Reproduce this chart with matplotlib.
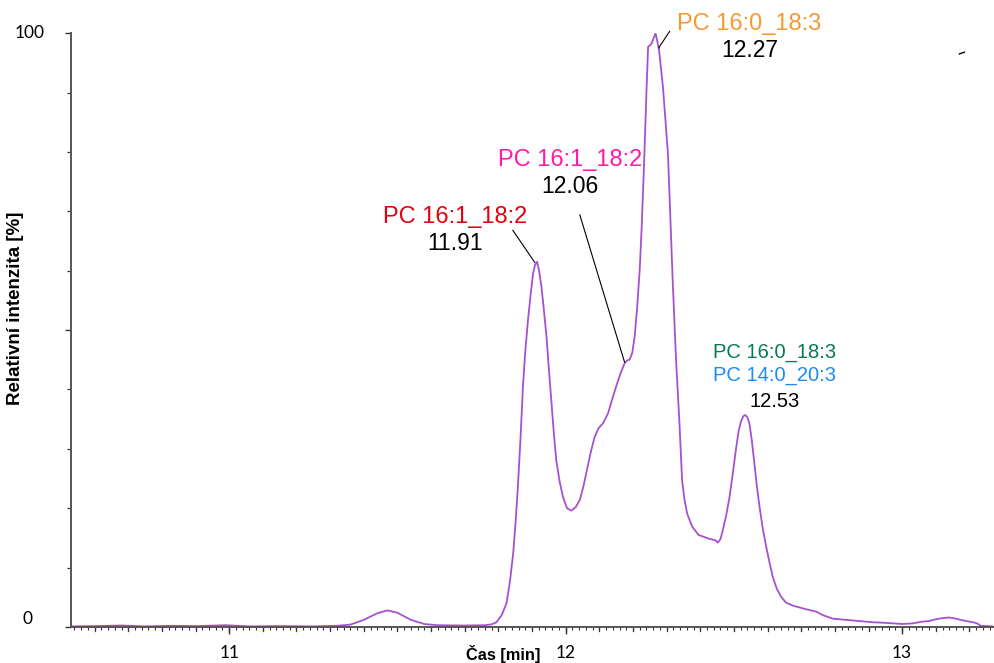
import numpy as np
import matplotlib
matplotlib.use("Agg")
import matplotlib.pyplot as plt
from matplotlib.ticker import MultipleLocator, FixedLocator
import matplotlib.transforms as mtransforms

# chromatogram trace (time in min, relative intensity in %)
time_min = [
    10.53, 10.60, 10.68, 10.75, 10.83, 10.90, 10.99, 11.06, 11.15, 11.25,
    11.32, 11.36, 11.40, 11.44, 11.47, 11.50, 11.54, 11.58, 11.62, 11.70,
    11.76, 11.78, 11.794, 11.81, 11.824, 11.834, 11.844, 11.851, 11.858, 11.866,
    11.873, 11.880, 11.888, 11.896, 11.903, 11.909, 11.915, 11.921, 11.928, 11.935,
    11.943, 11.950, 11.958, 11.965, 11.972, 11.982, 11.992, 12.004, 12.017, 12.030,
    12.042, 12.052, 12.061, 12.074, 12.086, 12.098, 12.111, 12.126, 12.138, 12.150,
    12.163, 12.175, 12.183, 12.190, 12.198, 12.205, 12.212, 12.220, 12.226, 12.233,
    12.240, 12.245, 12.255, 12.267, 12.277, 12.289, 12.304, 12.318, 12.328, 12.338,
    12.346, 12.353, 12.361, 12.376, 12.395, 12.424, 12.445, 12.452, 12.460, 12.467,
    12.477, 12.487, 12.497, 12.507, 12.514, 12.521, 12.528, 12.534, 12.540, 12.546,
    12.553, 12.561, 12.568, 12.576, 12.586, 12.596, 12.606, 12.615, 12.627, 12.640,
    12.655, 12.675, 12.694, 12.714, 12.744, 12.764, 12.794, 12.853, 12.912, 12.951,
    13.00, 13.03, 13.06, 13.08, 13.10, 13.12, 13.14, 13.16, 13.174, 13.20,
    13.218, 13.226, 13.233, 13.27,
]
intensity = [
    0.1, 0.15, 0.25, 0.1, 0.2, 0.15, 0.3, 0.1, 0.15, 0.1,
    0.2, 0.4, 1.2, 2.3, 2.8, 2.4, 1.2, 0.5, 0.3, 0.25,
    0.3, 0.45, 0.8, 2.0, 4.0, 7.5, 12.4, 17.5, 23.6, 32.0,
    40.5, 46.5, 51.7, 56.0, 59.5, 61.0, 61.5, 60.0, 57.3, 53.5,
    48.9, 43.5, 37.7, 32.5, 28.1, 24.5, 21.9, 20.0, 19.6, 20.2,
    21.4, 23.5, 25.9, 29.3, 32.0, 33.5, 34.3, 36.0, 38.3, 40.5,
    42.7, 44.4, 44.9, 45.0, 46.2, 48.9, 53.5, 60.1, 67.5, 78.0,
    90.0, 97.7, 98.2, 100.0, 97.4, 91.0, 79.7, 58.4, 45.0, 34.5,
    24.7, 21.5, 19.1, 16.9, 15.5, 14.9, 14.6, 14.2, 14.8, 16.3,
    18.8, 21.9, 26.0, 30.3, 33.0, 34.6, 35.5, 35.7, 35.3, 34.3,
    31.5, 27.5, 23.8, 20.3, 16.5, 13.5, 10.8, 8.5, 6.5, 5.1,
    4.1, 3.6, 3.3, 3.0, 2.6, 2.0, 1.4, 1.1, 0.8, 0.7,
    0.5, 0.6, 0.9, 1.0, 1.3, 1.5, 1.6, 1.4, 1.2, 0.9,
    0.7, 0.5, 0.2, 0.1,
]

# labelled peaks
peak_rt = [11.91, 12.06, 12.27, 12.53]
peak_labels = [
    ["PC 16:1_18:2"],
    ["PC 16:1_18:2"],
    ["PC 16:0_18:3"],
    ["PC 16:0_18:3", "PC 14:0_20:3"],
]
label_colors = [
    ["#e3000f"],
    ["#ff1aa8"],
    ["#f59a2f"],
    ["#077a55", "#1d8bf5"],
]

x_ticks = [11, 12, 13]
y_ticks = [0, 100]

t = np.array(time_min)
y = np.array(intensity)

fig = plt.figure(figsize=(9.95, 6.63), dpi=100)
ax = fig.add_axes([0.0714, 0.0543, 0.9266, 0.8957])

ax.plot(t, y, color="#a452cf", lw=1.3)

ax.set_xlim(10.53, 13.27)
ax.set_ylim(0, 100)

for side in ["top", "right"]:
    ax.spines[side].set_visible(False)
for side in ["left", "bottom"]:
    ax.spines[side].set_color("#555555")
    ax.spines[side].set_linewidth(1.4)

tick_font = dict(family="Lato", size=12.5)
ax.xaxis.set_major_locator(FixedLocator(x_ticks))
ax.xaxis.set_minor_locator(MultipleLocator(0.02))
ax.set_xticklabels([str(v) for v in x_ticks], **tick_font)
ax.tick_params(axis="x", which="major", length=5, width=1.0, color="#333333", pad=8)
ax.tick_params(axis="x", which="minor", length=2, width=0.8, color="#333333")
# medium ticks every 0.1 min
for v in np.arange(10.6, 13.27, 0.1):
    ax.plot([v, v], [0, -0.7], color="#333333", lw=0.9, clip_on=False)

# y ticks: only 0 and 100 are labelled, placed like the original
ax.yaxis.set_major_locator(FixedLocator([0, 50, 100]))
ax.yaxis.set_minor_locator(MultipleLocator(10))
ax.set_yticklabels([])
ax.tick_params(axis="y", which="major", length=4, width=1.0, color="#333333")
ax.tick_params(axis="y", which="minor", length=3, width=0.9, color="#333333")
ytrans = mtransforms.blended_transform_factory(ax.transAxes, ax.transData)
ax.text(-0.0445, y_ticks[1], str(y_ticks[1]), transform=ytrans, ha="center",
        va="center", **tick_font)
ax.text(-0.047, y_ticks[0] + 1.4, str(y_ticks[0]), transform=ytrans, ha="center",
        va="center", **tick_font)

ax.set_xlabel("Čas [min]", family="Liberation Sans", weight="bold", fontsize=11.8)
ax.xaxis.set_label_coords(0.4685, -0.030)
ax.set_ylabel("Relativní intenzita [%]", family="Liberation Sans", weight="bold",
              fontsize=13.5)
ax.yaxis.set_label_coords(-0.051, 0.537)

# annotation layout in data coordinates
ann_font = "Liberation Sans"
layout = [
    dict(tx=11.671, ty=69.0, ny=64.6, fs=17, nfs=16.5, line=(11.843, 66.8, 11.908, 61.4)),
    dict(tx=12.012, ty=78.6, ny=74.2, fs=17, nfs=16.5, line=(12.042, 69.4, 12.175, 44.6)),
    dict(tx=12.546, ty=101.6, ny=97.0, fs=17, nfs=16.5, line=(12.309, 100.3, 12.276, 97.5)),
    dict(tx=12.620, ty=46.3, ny=37.9, fs=14.5, nfs=14.5, line=None),
]
for rt, labels, colors, lay in zip(peak_rt, peak_labels, label_colors, layout):
    for i, (lab, col) in enumerate(zip(labels, colors)):
        ax.text(lay["tx"], lay["ty"] - 4.0 * i, lab, color=col, fontsize=lay["fs"],
                family=ann_font, ha="center", va="center", clip_on=False)
    ax.text(lay["tx"], lay["ny"], f"{rt:.2f}", color="black", fontsize=lay["nfs"],
            family=ann_font, ha="center", va="center", clip_on=False)
    if lay["line"] is not None:
        x0, y0, x1, y1 = lay["line"]
        ax.plot([x0, x1], [y0, y1], color="black", lw=0.8, clip_on=False)

# small stray mark in the top right of the original
ax.plot([13.17, 13.185], [96.5, 96.8], color="black", lw=1.0, clip_on=False)

fig.savefig("out.png", dpi=100)
